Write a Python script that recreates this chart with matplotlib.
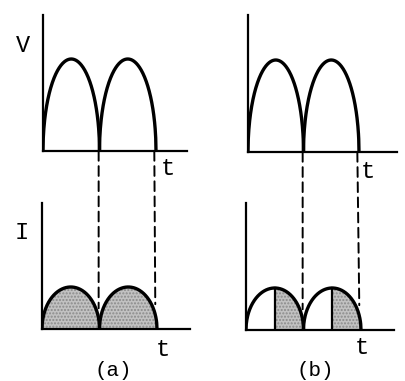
import matplotlib
matplotlib.use('Agg')

import numpy as np
import matplotlib.pyplot as plt
from matplotlib.patches import ConnectionPatch

# arch boundaries in half-periods, peak heights
arch_starts = [0.0, 1.0]
v_peak = 1.0
i_peak = 0.45
# conduction begins at the peak in (b)
shade_from = [0.0, 0.5]   # (a), (b) fraction of each half-period
dash_x = [0.985, 1.97]

W, H = 405, 381
fig = plt.figure(figsize=(W / 100, H / 100), dpi=100)


def box(left, right, base, top):
    return [left / W, 1 - base / H, (right - left) / W, (base - top) / H]


def arch(t0, frac0=0.0, n=200):
    u = np.linspace(frac0, 1, n)
    return t0 + u, np.sqrt(np.clip(1 - (2 * u - 1) ** 2, 0, None))


def setup(ax, unit_px, peak_px, peak):
    w = ax.get_position().width * W
    h = ax.get_position().height * H
    ax.set_xlim(0, w / unit_px)
    ax.set_ylim(0, peak * h / peak_px)
    for s in ['top', 'right']:
        ax.spines[s].set_visible(False)
    for s in ['left', 'bottom']:
        ax.spines[s].set_linewidth(1.6)
    ax.set_xticks([])
    ax.set_yticks([])
    ax.patch.set_alpha(0)


panels = [
    (box(43, 187, 151, 15), box(42, 190, 329, 203), 56.5, 57.5, 0),
    (box(248, 397, 152, 15), box(246, 394, 330, 203), 55.5, 57.5, 1),
]

for top_box, bot_box, ut, ub, k in panels:
    axv = fig.add_axes(top_box)
    setup(axv, ut, 92, v_peak)
    for t0 in arch_starts:
        x, y = arch(t0)
        axv.plot(x, v_peak * y, color='black', lw=2.4, solid_capstyle='butt')

    axi = fig.add_axes(bot_box)
    setup(axi, ub, 42, i_peak)
    for t0 in arch_starts:
        x, y = arch(t0)
        xs, ys = arch(t0, shade_from[k])
        axi.fill_between(xs, 0, i_peak * ys, facecolor='#c2c2c2',
                         edgecolor='#8a8a8a', hatch='.....', lw=0)
        axi.plot(x, i_peak * y, color='black', lw=2.4)
        if shade_from[k] > 0:
            axi.plot([t0 + shade_from[k]] * 2, [0, i_peak], color='black', lw=1.6)

    for xd in dash_x:
        frac = xd - np.floor(xd)
        yend = i_peak * np.sqrt(max(1 - (2 * frac - 1) ** 2, 0)) + 0.25 * i_peak
        con = ConnectionPatch(xyA=(xd, 0), coordsA=axv.transData,
                              xyB=(xd, yend), coordsB=axi.transData,
                              color='black', lw=1.4, linestyle=(0, (5, 2.8)))
        fig.add_artist(con)

font = dict(family='Liberation Mono', color='black', ha='center', va='center')
fig.text(23 / W, 1 - 46 / H, 'V', fontsize=17, **font)
fig.text(22 / W, 1 - 233 / H, 'I', fontsize=17, **font)
fig.text(168 / W, 1 - 169 / H, 't', fontsize=17, **font)
fig.text(368 / W, 1 - 171 / H, 't', fontsize=17, **font)
fig.text(163 / W, 1 - 349 / H, 't', fontsize=17, **font)
fig.text(362 / W, 1 - 348 / H, 't', fontsize=17, **font)
fig.text(113 / W, 1 - 371 / H, '(a)', fontsize=15, **font)
fig.text(315 / W, 1 - 371 / H, '(b)', fontsize=15, **font)

fig.savefig('out.png', dpi=100, facecolor='white')
